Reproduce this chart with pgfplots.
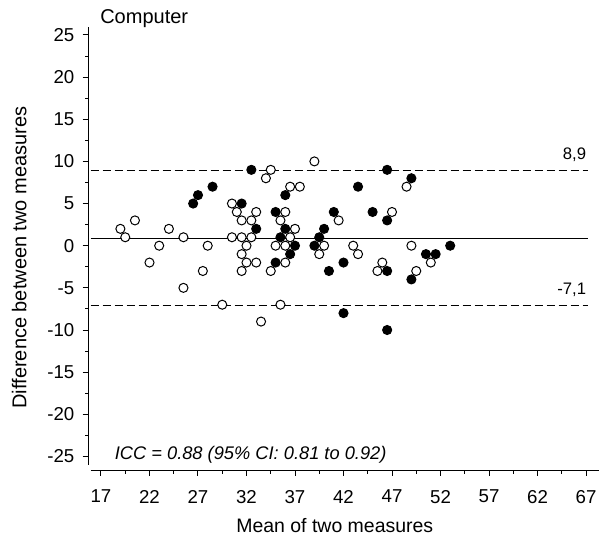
\documentclass[border=0pt]{standalone}
\usepackage{pgfplots}
\pgfplotsset{compat=1.18}
\usepackage{fontspec}
\setmainfont{Liberation Sans}

\begin{document}
\begin{tikzpicture}
\begin{axis}[
    x=7.275pt, y=6.3225pt,
    xmin=15.94, xmax=68.3,
    ymin=-26, ymax=26,
    axis lines=left,
    axis line style={-, line width=0.75pt},
    axis x line shift=4.3pt,
    axis y line shift=2pt,
    xtick={17,22,...,67},
    ytick={-25,-20,...,25},
    minor x tick num=1,
    minor y tick num=1,
    tick align=outside,
    major tick length=4pt,
    minor tick length=2.2pt,
    tick style={black, line width=0.75pt},
    /pgf/number format/assume math mode=true,
    ticklabel style={font=\fontsize{14}{16}\selectfont},
    xticklabel style={yshift=-7pt},
    yticklabel style={xshift=-2.8pt},
    clip=false,
]

% limits of agreement and mean difference
\addplot[black, line width=0.75pt, dash pattern=on 6pt off 3pt] coordinates {(15.94,8.9) (67.2,8.9)};
\addplot[black, line width=0.75pt, dash pattern=on 6pt off 3pt] coordinates {(15.94,-7.1) (67.2,-7.1)};
\addplot[black, line width=0.75pt] coordinates {(15.94,0.9) (67.2,0.9)};

% open circles
\addplot[only marks, mark=*, mark size=3.4pt, mark options={fill=white, draw=black, line width=0.75pt}]
    coordinates {
    (19,2) (19.5,1) (20.5,3) (22,-2) (23,0) (24,2) (25.5,1) (25.5,-5)
    (27.5,-3) (28,0) (29.5,-7) (34.5,9) (34,8) (39,10) (36.5,7) (37.5,7)
    (30.5,5) (31,4) (33,4) (36,4) (31.5,3) (32.5,3) (35.5,3) (41.5,3)
    (37,2) (30.5,1) (31.5,1) (32.5,1) (36.5,1) (32,0) (35,0) (36,0) (40,0)
    (31.5,-1) (39.5,-1) (32,-2) (33,-2) (36,-2) (31.5,-3) (34.5,-3)
    (35.5,-7) (33.5,-9) (43,0) (43.5,-1) (49,0) (48.5,7) (47,4) (51,-2)
    (46,-2) (45.5,-3) (49.5,-3)
    };

% filled circles
\addplot[only marks, mark=*, mark size=3.4pt, mark options={fill=black, draw=black, line width=0.75pt}]
    coordinates {
    (26.5,5) (27,6) (28.5,7) (32.5,9) (36,6) (31.5,5) (35,4) (41,4)
    (33,2) (36,2) (40,2) (35.5,1) (39.5,1) (37,0) (39,0) (36.5,-1)
    (35,-2) (40.5,-3) (43.5,7) (46.5,9) (49,8) (45,4) (46.5,3)
    (50.5,-1) (51.5,-1) (53,0) (42,-2) (46.5,-3) (49,-4) (42,-8) (46.5,-10)
    };

\node[anchor=base east, font=\fontsize{12.5}{14}\selectfont, yshift=8.25pt] at (axis cs:67.5,8.9) {8,9};
\node[anchor=base east, font=\fontsize{12.5}{14}\selectfont, yshift=8.25pt] at (axis cs:67.5,-7.1) {-7,1};
\node[anchor=base west, inner sep=0pt, font=\fontsize{15}{17}\selectfont, yshift=2.6pt] at (axis cs:16.9,26) {Computer};
\node[anchor=base west, inner sep=0pt, font=\fontsize{13.7}{16}\selectfont\itshape] at (axis cs:18.4,-25.4) {ICC = 0.88 (95\% CI: 0.81 to 0.92)};
\node[anchor=base, inner sep=0pt, font=\fontsize{14.6}{17}\selectfont] at (axis cs:41.1,-34) {Mean of two measures};
\node[anchor=north, rotate=90, inner sep=0pt, font=\fontsize{15}{17}\selectfont] at (axis cs:7.79,-1.4) {Difference between two measures};

\coordinate (tl) at (axis cs:6.588,29.146);
\coordinate (br) at (axis cs:68.443,-35.385);
\end{axis}
\pgfresetboundingbox
\path[use as bounding box] (tl) rectangle (br);
\end{tikzpicture}
\end{document}
